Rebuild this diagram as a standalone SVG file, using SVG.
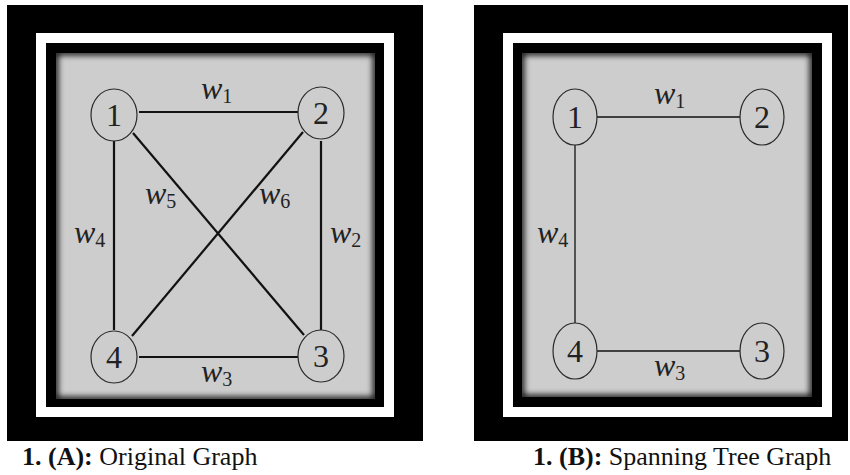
<svg xmlns="http://www.w3.org/2000/svg" width="850" height="475" viewBox="0 0 850 475">
<defs>
<style>
.frame{fill:#000}
.band{fill:#fff}
.gray{fill:#cdcdcd}
.shadow{fill:none;stroke:#000;stroke-width:6;filter:url(#blur)}
.node{fill:none;stroke:#2a2a2a;stroke-width:1.2}
text{font-family:'Liberation Serif','Times New Roman',serif}
.num{font-size:32px;fill:#222;text-anchor:middle}
.lbl{font-size:32px;fill:#222}
.w{font-style:italic}
.sub{font-size:20px}
.e1{stroke:#111;stroke-width:2.2;fill:none}
.e2{stroke:#111;stroke-width:1.3;fill:none}
.cap{font-size:26px;fill:#111}
.b{font-weight:bold}
</style>
<filter id="blur" x="-10%" y="-10%" width="120%" height="120%"><feGaussianBlur stdDeviation="3"/></filter>
<clipPath id="clipA"><rect x="56" y="53" width="319" height="346"/></clipPath>
<clipPath id="clipB"><rect x="522" y="53" width="290" height="344"/></clipPath>
</defs>

<!-- Panel A frames -->
<g id="panelA-frame">
<rect class="frame" x="7" y="5" width="416" height="436"/>
<rect class="band" x="36" y="33" width="358" height="384"/>
<rect class="frame" x="46" y="43" width="338" height="364"/>
<rect class="gray" x="56" y="53" width="319" height="346"/>
<g clip-path="url(#clipA)"><rect class="shadow" x="55" y="52" width="321" height="348"/></g>
</g>

<!-- Panel B frames -->
<g id="panelB-frame">
<rect class="frame" x="474" y="5" width="374" height="436"/>
<rect class="band" x="503" y="33" width="329" height="384"/>
<rect class="frame" x="513" y="43" width="309" height="364"/>
<rect class="gray" x="522" y="53" width="290" height="344"/>
<g clip-path="url(#clipB)"><rect class="shadow" x="521" y="52" width="292" height="346"/></g>
</g>

<!-- Connectors A -->
<g id="edgesA">
<line class="e1" x1="139" y1="112" x2="298" y2="112"/>
<line class="e1" x1="139" y1="357" x2="298" y2="357"/>
<line class="e1" x1="114" y1="141" x2="114" y2="330"/>
<line class="e1" x1="321" y1="141" x2="321" y2="330"/>
<line class="e1" x1="133" y1="133" x2="304" y2="335"/>
<line class="e1" x1="303" y1="132" x2="132" y2="336"/>
</g>
<g id="edge-labelsA">
<text class="lbl" x="201" y="99"><tspan class="w">w</tspan><tspan class="sub" dy="4">1</tspan></text>
<text class="lbl" x="330" y="243"><tspan class="w">w</tspan><tspan class="sub" dy="4">2</tspan></text>
<text class="lbl" x="201" y="382"><tspan class="w">w</tspan><tspan class="sub" dy="4">3</tspan></text>
<text class="lbl" x="74" y="243"><tspan class="w">w</tspan><tspan class="sub" dy="4">4</tspan></text>
<text class="lbl" x="145" y="204"><tspan class="w">w</tspan><tspan class="sub" dy="4">5</tspan></text>
<text class="lbl" x="259" y="204"><tspan class="w">w</tspan><tspan class="sub" dy="4">6</tspan></text>
</g>

<!-- Nodes A -->
<g id="A-node1"><ellipse class="node" cx="114" cy="115" rx="23" ry="26"/><text class="num" x="114" y="126">1</text></g>
<g id="A-node2"><ellipse class="node" cx="321" cy="113" rx="23" ry="26"/><text class="num" x="321" y="124">2</text></g>
<g id="A-node3"><ellipse class="node" cx="321" cy="356" rx="23" ry="26"/><text class="num" x="321" y="367">3</text></g>
<g id="A-node4"><ellipse class="node" cx="114" cy="357" rx="23" ry="26"/><text class="num" x="114" y="368">4</text></g>

<!-- Connectors B -->
<g id="edgesB">
<line class="e2" x1="597" y1="117" x2="740" y2="117"/>
<line class="e2" x1="597" y1="351" x2="740" y2="351"/>
<line class="e2" x1="575" y1="145" x2="575" y2="323"/>
</g>
<g id="edge-labelsB">
<text class="lbl" x="654" y="104"><tspan class="w">w</tspan><tspan class="sub" dy="4">1</tspan></text>
<text class="lbl" x="654" y="376"><tspan class="w">w</tspan><tspan class="sub" dy="4">3</tspan></text>
<text class="lbl" x="537" y="243"><tspan class="w">w</tspan><tspan class="sub" dy="4">4</tspan></text>
</g>

<!-- Nodes B -->
<g id="B-node1"><ellipse class="node" cx="575" cy="117" rx="22" ry="28"/><text class="num" x="575" y="128">1</text></g>
<g id="B-node2"><ellipse class="node" cx="762" cy="117" rx="22" ry="28"/><text class="num" x="762" y="128">2</text></g>
<g id="B-node3"><ellipse class="node" cx="762" cy="351" rx="22" ry="28"/><text class="num" x="762" y="362">3</text></g>
<g id="B-node4"><ellipse class="node" cx="575" cy="351" rx="22" ry="28"/><text class="num" x="575" y="362">4</text></g>

<!-- Captions -->
<text class="cap" x="22" y="465"><tspan class="b">1. (A):</tspan> Original Graph</text>
<text class="cap" x="533" y="465"><tspan class="b">1. (B):</tspan> Spanning Tree Graph</text>
</svg>
